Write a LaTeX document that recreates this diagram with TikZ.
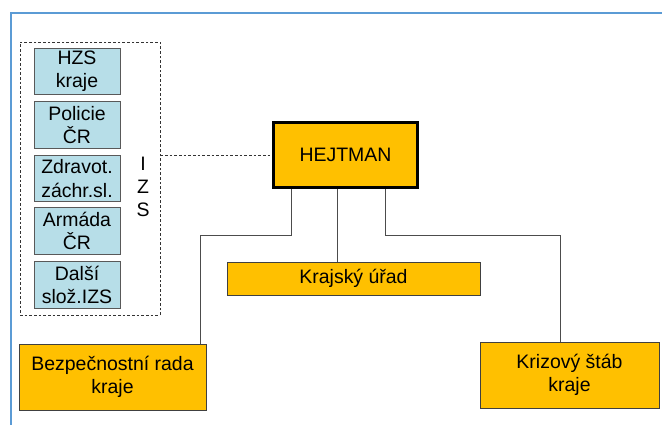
\documentclass[tikz,border=0pt]{standalone}
\usepackage{fontspec}
\setmainfont{Liberation Sans}
\usetikzlibrary{calc}

\definecolor{kraj}{HTML}{FFC000}
\definecolor{slozka}{HTML}{B7DEE8}
\definecolor{ramec}{HTML}{5B9BD5}

\begin{document}
\begin{tikzpicture}[x=0.75pt, y=-0.75pt,
	txt/.style={font=\fontsize{14.6}{17.5}\selectfont, align=center, inner sep=0pt},
	orgbox/.style={txt, draw=black!75, fill=kraj, line width=0.75pt},
	izsbox/.style={txt, draw=black!65, fill=slozka, line width=0.75pt, minimum width=64.5pt, minimum height=35pt},
	conn/.style={draw=black!70, line width=0.75pt},
	carka/.style={draw=black!80, line width=0.6pt, dash pattern=on 2pt off 1.5pt}]


\useasboundingbox (0,0) rectangle (662,425);


\draw[ramec, line width=1.5pt] (11,425) -- (11,13) -- (662,13);



\node[carka, minimum width=105pt, minimum height=204.75pt] (izs) at (90,178.5) {};

\node[izsbox] (hzs)     at (77,71.5)  {HZS\\kraje};
\node[izsbox] (policie) at (77,125)   {Policie\\ČR};
\node[izsbox] (zzs)     at (77,178.5) {Zdravot.\\záchr.sl.};
\node[izsbox] (armada)  at (77,231)   {Armáda\\ČR};
\node[izsbox] (dalsi)   at (77,285)   {Další\\slož.IZS};

\node[txt] (izsnapis) at (143,187) {I\\Z\\S};



\node[orgbox, draw=black, line width=2.25pt, minimum width=108pt, minimum height=48.75pt] (hejtman) at (345.5,155) {HEJTMAN};

\node[orgbox, minimum width=189.75pt, minimum height=24.75pt] (urad) at (353.5,278.5) {Krajský úřad};

\node[orgbox, minimum width=140.25pt, minimum height=49.5pt] (rada) at (112.5,377) {Bezpečnostní rada\\kraje};

\node[orgbox, minimum width=134.25pt, minimum height=49.5pt] (stab) at (569.5,375) {Krizový štáb\\kraje};



\draw[carka] (izs.east |- hejtman.west) -- (hejtman.west);


\coordinate (koleno1) at (200,235);
\coordinate (koleno2) at (560,235);

\draw[conn] ($(hejtman.south west)+(19.5,0)$) |- (koleno1) -- (koleno1 |- rada.north);
\draw[conn] ($(hejtman.south west)+(65.5,0)$) coordinate (stred) -- (stred |- urad.north);
\draw[conn] ($(hejtman.south west)+(113.5,0)$) |- (koleno2) -- (koleno2 |- stab.north);

\end{tikzpicture}
\end{document}
